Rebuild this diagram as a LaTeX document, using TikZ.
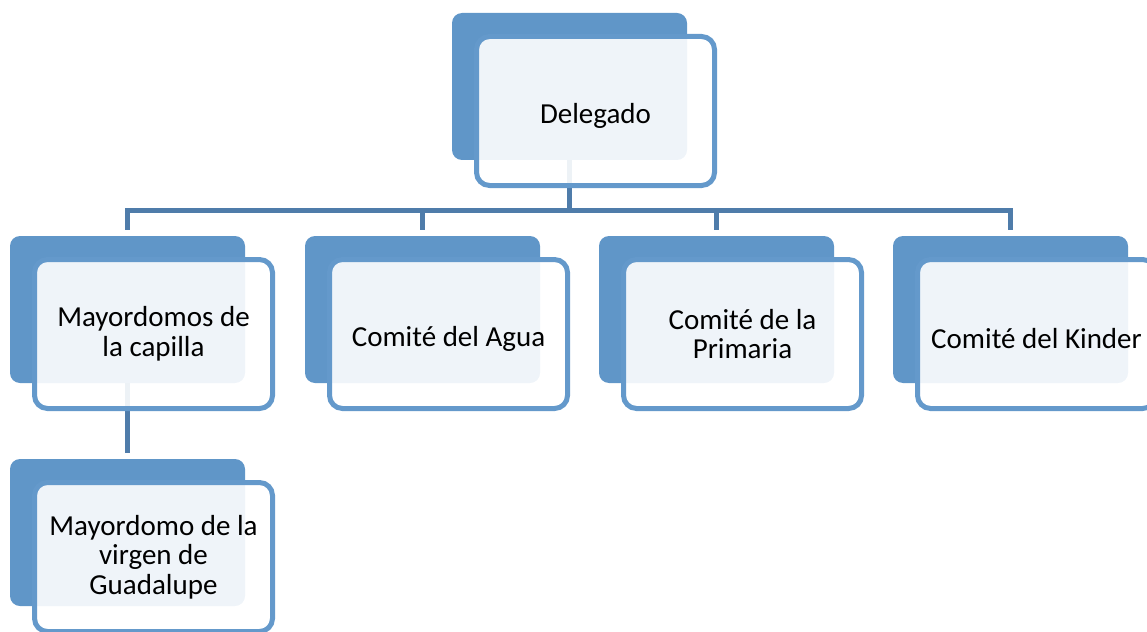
\documentclass[tikz,border=0pt]{standalone}
\usepackage{fontspec}
\setmainfont{Carlito}
\usetikzlibrary{backgrounds}
\definecolor{boxdark}{HTML}{6096C8}
\definecolor{boxline}{HTML}{6499CB}
\definecolor{busline}{HTML}{4F7CAA}
\tikzset{
  backbox/.style={fill=boxdark, rounded corners=10pt, minimum width=235pt, minimum height=147pt, inner sep=0pt},
  frontbox/.style={draw=boxline, line width=5pt, fill=white, fill opacity=0.9, text opacity=1,
    rounded corners=13pt, minimum width=238pt, minimum height=149pt, inner sep=0pt,
    align=center, font=\fontsize{29}{29.5}\selectfont,
    execute at begin node={\rule{0pt}{30pt}}},
  link/.style={draw=busline, line width=5pt}
}
\begin{document}
\begin{tikzpicture}[x=1pt, y=-1pt]
\useasboundingbox (0,0) rectangle (1147,631);
% back boxes
\node[backbox] (deleg-bk) at (569.5,86.5) {};
\node[backbox] (mayor-bk) at (127.5,309.5) {};
\node[backbox] (agua-bk) at (422.5,309.5) {};
\node[backbox] (prim-bk) at (716.5,309.5) {};
\node[backbox] (kinder-bk) at (1010.5,309.5) {};
\node[backbox] (virgen-bk) at (127.5,532.5) {};
% front boxes
\node[frontbox] (deleg) at ([shift={(26,24.5)}]deleg-bk.center) {Delegado};
\node[frontbox] (mayor) at ([shift={(26,24.5)}]mayor-bk.center) {Mayordomos de\\la capilla};
\node[frontbox] (agua) at ([shift={(26,24.5)}]agua-bk.center) {Comité del Agua};
\node[frontbox] (prim) at ([shift={(26,24.5)}]prim-bk.center) {Comité de la\\Primaria};
\node[frontbox] (kinder) at ([shift={(26,24.5)}]kinder-bk.center) {Comité del Kinder};
\node[frontbox] (virgen) at ([shift={(26,24.5)}]virgen-bk.center) {Mayordomo de la\\virgen de\\Guadalupe};
% connectors
\begin{scope}[on background layer]
\coordinate (bus) at (569.5,210);
\draw[link] (deleg-bk.south) -- (bus);
\foreach \n in {mayor,agua,prim,kinder}
  \draw[link] (bus) -| ([yshift=6pt]\n-bk.north);
\draw[link] (mayor-bk.south) -- ([yshift=6pt]virgen-bk.north);
\end{scope}
\end{tikzpicture}
\end{document}
